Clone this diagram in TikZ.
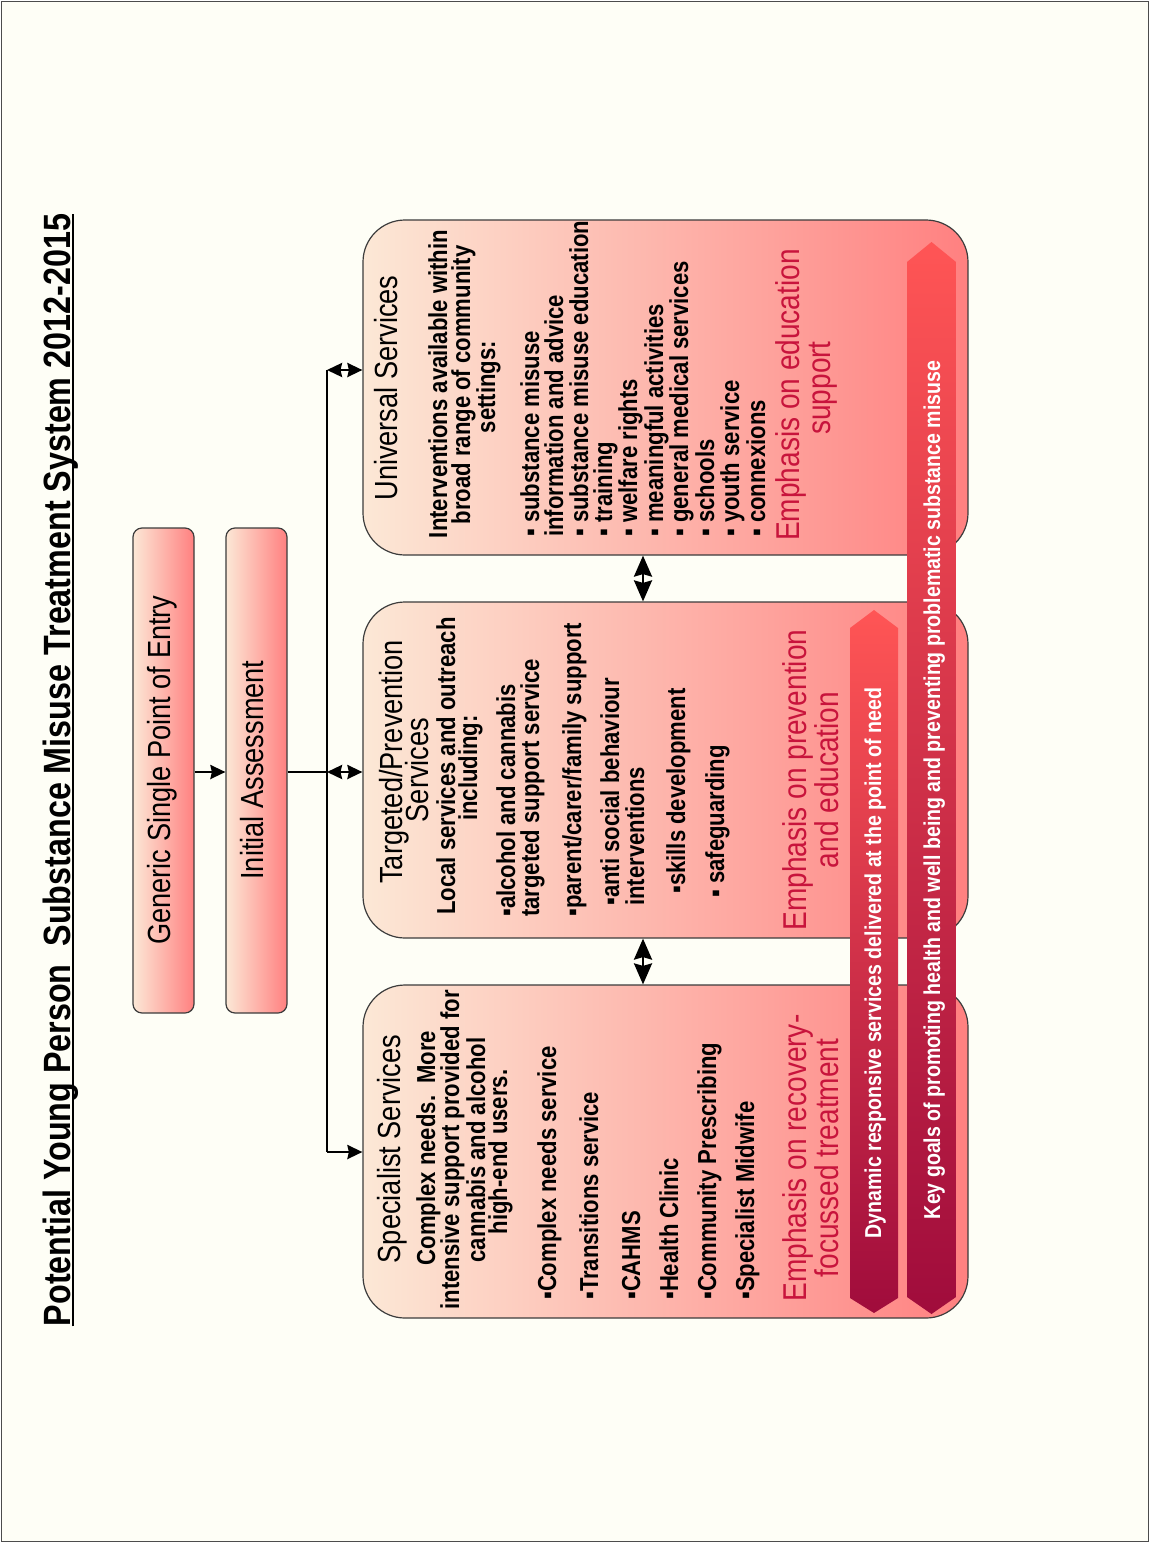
\documentclass[tikz,border=0pt]{standalone}
\usepackage{fontspec}
\setmainfont{Liberation Sans}
\newfontfamily\nf{Liberation Sans}[FakeStretch=0.85]
\usetikzlibrary{arrows.meta,calc}
\definecolor{bg}{RGB}{254,254,246}
\definecolor{peach}{RGB}{252,232,214}
\definecolor{pinkr}{RGB}{255,128,128}
\definecolor{crim}{RGB}{200,20,60}
\definecolor{arrtop}{RGB}{255,85,85}
\definecolor{arrbot}{RGB}{160,12,60}
\definecolor{edge}{RGB}{60,60,60}
\tikzset{
  sbox/.style={draw=edge, line width=1.2pt, rounded corners=9pt, left color=peach, right color=pinkr, inner sep=0pt, minimum width=61pt, minimum height=485pt},
  bigbox/.style={draw=edge, line width=1.2pt, rounded corners=42pt, left color=peach, right color=pinkr, inner sep=0pt, minimum width=605pt},
  headtxt/.style={rotate=90, inner sep=0pt, anchor=base, font=\nf\fontsize{32}{36}\selectfont},
  bodytxt/.style={rotate=90, inner sep=0pt, anchor=base, font=\nf\bfseries\fontsize{26}{30}\selectfont},
  bultxt/.style={bodytxt, anchor=base west},
  emphtxt/.style={rotate=90, inner sep=0pt, anchor=base, text=crim, font=\nf\fontsize{33}{36}\selectfont},
  arrtxt/.style={rotate=90, inner sep=0pt, anchor=base, text=white, font=\nf\bfseries\fontsize{23}{26}\selectfont},
  conn/.style={line width=2.5pt, draw=black},
  tipA/.tip={Stealth[length=15pt,width=14pt,inset=1.5pt]},
  tipB/.tip={Stealth[length=21pt,width=18pt,inset=2.5pt]},
  dbl/.style={conn, tipA-tipA},
  vdbl/.style={conn, tipB-tipB},
  sgl/.style={conn, -tipA},
  chev/.style={top color=arrtop, bottom color=arrbot}
}
\begin{document}
\begin{tikzpicture}[x=1pt,y=-1pt]
\useasboundingbox (0,0) rectangle (1149,1542);
\path[fill=bg, draw=black!70, line width=1pt] (1,1) rectangle (1148,1541);

% title
\node[rotate=90, inner sep=0pt, anchor=base, font=\nf\bfseries\fontsize{38}{40}\selectfont] (title) at (70,770) {Potential Young Person\ \ Substance Misuse Treatment System 2012-2015};
\draw[line width=1.6pt] ($(title.base west)+(3,0)$) -- ($(title.base east)+(3,0)$);

% entry boxes
\node[sbox] (gen) at (163.5,770.5) {};
\node[headtxt] (gent) at (170,770) {Generic Single Point of Entry};
\node[sbox] (ini) at (256.5,770.5) {};
\node[headtxt] (init) at (263,770) {Initial Assessment};

% big boxes
\node[bigbox, minimum height=335pt] (univ) at (665.5,387.5) {};
\node[bigbox, minimum height=336pt] (targ) at (665.5,770) {};
\node[bigbox, minimum height=333pt] (spec) at (665.5,1151.5) {};

% connectors
\coordinate (tU) at (327,370);
\coordinate (tM) at (327,772);
\coordinate (tS) at (327,1152);
\coordinate (cx) at (643,0);
\draw[sgl] (gen.east |- tM) -- (ini.west |- tM);
\draw[conn] (ini.east |- tM) -- (tM);
\draw[conn] (tU) -- (tS);
\draw[dbl] (tU) -- (tU -| univ.west);
\draw[dbl] (tM) -- (tM -| targ.west);
\draw[sgl] (tS) -- (tS -| spec.west);
\draw[vdbl] (univ.south -| cx) -- (targ.north -| cx);
\draw[vdbl] (targ.south -| cx) -- (spec.north -| cx);

% universal
\node[headtxt] (u1) at (397,388) {Universal Services};
\node[bodytxt] (u2) at (447,384) {Interventions available within};
\node[bodytxt] (u3) at (470,385) {broad range of community};
\node[bodytxt] (u4) at (495,387) {settings:};
\node[bultxt] (u5) at (539,537) {▪ substance misuse};
\node[bultxt] (u6) at (563,537) {information and advice};
\node[bultxt] (u7) at (588,537) {▪ substance misuse education};
\node[bultxt] (u8) at (612,537) {▪ training};
\node[bultxt] (u9) at (637,537) {▪ welfare rights};
\node[bultxt] (u10) at (663,537) {▪ meaningful activities};
\node[bultxt] (u11) at (688,537) {▪ general medical services};
\node[bultxt] (u12) at (714,537) {▪ schools};
\node[bultxt] (u13) at (739,537) {▪ youth service};
\node[bultxt] (u14) at (765,537) {▪ connexions};
\node[emphtxt] (u15) at (799,395) {Emphasis on education};
\node[emphtxt] (u16) at (830,388) {support};

% targeted
\node[headtxt] (t1) at (402,762) {Targeted/Prevention};
\node[headtxt] (t2) at (428,770) {Services};
\node[bodytxt] (t3) at (455,766) {Local services and outreach};
\node[bodytxt] (t4) at (477,768) {including:};
\node[bultxt] (t5) at (515,917) {▪alcohol and cannabis};
\node[bultxt] (t6) at (539,917) {targeted support service};
\node[bultxt] (t7) at (581,917) {▪parent/carer/family support};
\node[bultxt] (t8) at (619,906) {▪anti social behaviour};
\node[bultxt] (t9) at (644,906) {interventions};
\node[bultxt] (t10) at (685,894) {▪skills development};
\node[bultxt] (t11) at (724,898) {▪ safeguarding};
\node[emphtxt] (t12) at (806,780) {Emphasis on prevention};
\node[emphtxt] (t13) at (838,780) {and education};

% specialist
\node[headtxt] (s1) at (400,1149) {Specialist Services};
\node[bodytxt] (s2) at (435,1148) {Complex needs.\ \ More};
\node[bodytxt] (s3) at (459,1150) {intensive support provided for};
\node[bodytxt] (s4) at (485,1150) {cannabis and alcohol};
\node[bodytxt] (s5) at (507,1152) {high-end users.};
\node[bultxt] (s6) at (556,1300) {▪Complex needs service};
\node[bultxt] (s7) at (598,1300) {▪Transitions service};
\node[bultxt] (s8) at (640,1300) {▪CAHMS};
\node[bultxt] (s9) at (678,1300) {▪Health Clinic};
\node[bultxt] (s10) at (716,1300) {▪Community Prescribing};
\node[bultxt] (s11) at (754,1300) {▪Specialist Midwife};
\node[emphtxt] (s12) at (806,1158) {Emphasis on recovery-};
\node[emphtxt] (s13) at (838,1158) {focussed treatment};

% chevron arrows
\shade[chev] (850,628) -- (874,610) -- (898,628) -- (898,1298) -- (874,1313) -- (850,1298) -- cycle;
\node[arrtxt] (dyn) at (881,963) {Dynamic responsive services delivered at the point of need};
\shade[chev] (907,262) -- (931.5,242) -- (956,262) -- (956,1297) -- (931.5,1314) -- (907,1297) -- cycle;
\node[arrtxt] (key) at (940,790) {Key goals of promoting health and well being and preventing problematic substance misuse};
\end{tikzpicture}
\end{document}
